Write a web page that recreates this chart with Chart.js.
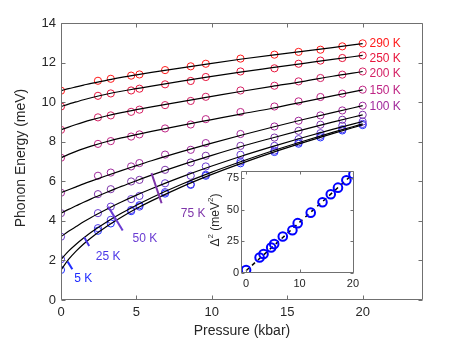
<!DOCTYPE html>
<html><head><meta charset="utf-8">
<script src="https://cdn.jsdelivr.net/npm/chart.js@4.4.1/dist/chart.umd.min.js"></script>
<style>
html,body{margin:0;padding:0;background:#fff;}
#wrap{position:relative;width:471px;height:353px;overflow:hidden;}
#main{position:absolute;left:0;top:0;width:471px;height:353px;}
#inset{position:absolute;left:200px;top:160px;width:165px;height:140px;}
</style></head><body>
<div id="wrap"><canvas id="main" width="471" height="353"></canvas><canvas id="inset" width="165" height="140"></canvas></div>
<script>
// ---------- data ----------
const pressure = [0, 2.45, 3.3, 4.65, 5.2, 6.9, 8.6, 9.6, 11.9, 14.15, 15.75, 17.2, 18.65, 20.0];
const temperatures = ['290 K','250 K','200 K','150 K','100 K','75 K','50 K','25 K','5 K'];
const e290 = [10.58,11.08,11.18,11.34,11.40,11.62,11.81,11.94,12.20,12.40,12.54,12.65,12.82,12.97];
const e250 = [9.78,10.32,10.44,10.59,10.68,10.90,11.07,11.27,11.55,11.71,11.94,12.10,12.23,12.36];
const e200 = [8.60,9.23,9.33,9.51,9.62,9.85,10.06,10.27,10.59,10.83,11.05,11.22,11.39,11.55];
const e150 = [7.19,7.89,8.03,8.26,8.37,8.67,8.87,9.14,9.50,9.78,10.04,10.26,10.43,10.63];
const e100 = [5.42,6.28,6.44,6.75,6.92,7.35,7.59,7.93,8.39,8.77,9.06,9.33,9.58,9.82];
const e75  = [4.39,5.35,5.60,5.99,6.07,6.58,6.95,7.29,7.79,8.21,8.55,8.86,9.11,9.36];
const e50  = [3.20,4.39,4.72,5.10,5.26,5.90,6.28,6.75,7.34,7.79,8.13,8.43,8.81,9.02];
const e25  = [2.06,3.63,4.05,4.55,4.72,5.45,5.85,6.33,7.00,7.55,7.97,8.30,8.63,8.90];
const e5   = [1.52,3.50,3.87,4.49,4.79,5.38,5.82,6.28,6.91,7.48,7.90,8.22,8.57,8.84];

// fitted curves on a pressure grid
const fitP   = [0,0.5,1,1.5,2,3,4,5,6,8,10,12,14,16,18,20];
const fit290 = [10.58,10.68,10.77,10.86,10.95,11.10,11.25,11.38,11.50,11.73,11.96,12.18,12.38,12.57,12.76,12.96];
const fit250 = [9.78,9.90,10.01,10.12,10.22,10.40,10.55,10.68,10.81,11.06,11.30,11.53,11.74,11.95,12.16,12.36];
const fit200 = [8.60,8.74,8.87,8.99,9.10,9.30,9.47,9.62,9.76,10.03,10.29,10.55,10.80,11.04,11.31,11.55];
const fit150 = [7.19,7.36,7.51,7.65,7.78,8.00,8.19,8.36,8.52,8.83,9.12,9.41,9.69,10.00,10.32,10.62];
const fit100 = [5.42,5.57,5.72,5.87,6.01,6.28,6.54,6.79,7.04,7.50,7.93,8.34,8.73,9.11,9.47,9.82];
const fit75  = [4.39,4.58,4.76,4.94,5.11,5.43,5.74,6.03,6.31,6.83,7.31,7.77,8.19,8.60,8.99,9.36];
const fit50  = [3.20,3.47,3.71,3.95,4.17,4.57,4.95,5.30,5.62,6.22,6.77,7.28,7.75,8.20,8.62,9.02];
const fit25  = [2.05,2.47,2.82,3.13,3.42,3.93,4.38,4.79,5.17,5.85,6.46,7.01,7.53,8.01,8.47,8.90];
const fit5   = [1.52,2.05,2.47,2.83,3.15,3.70,4.18,4.62,5.01,5.72,6.35,6.92,7.45,7.94,8.41,8.85];

// short marker strokes on the low-temperature curves (pressure, energy)
const markP5  = [0.44, 0.75], markE5  = [1.94, 1.55];
const markP25 = [1.54, 1.87], markE25 = [3.17, 2.73];
const markP50 = [3.13, 4.09], markE50 = [4.72, 3.51];
const markP75 = [6.00, 6.67], markE75 = [6.41, 4.89];

// inset: gap squared vs pressure (5 K)
const insetP  = [0, 2.53, 3.27, 4.7, 5.26, 6.87, 8.67, 9.66, 12.1, 14.3, 15.85, 17.2, 18.77, 20.1];
const deltaSq = [2.4, 12.3, 15.0, 20.2, 22.9, 28.9, 33.9, 39.5, 47.8, 56.0, 62.4, 67.6, 73.4, 78.2];
const insetFitP = [0, 20];
const insetFitD = [1.8, 78.4];

const xTicks = [0,5,10,15,20];
const yTicks = [0,2,4,6,8,10,12,14];
const insetXTicks = [0,10,20];
const insetYTicks = [0,25,50,75];

// ---------- styling ----------
const colors = ['#ff1a1a','#e8153c','#d42265','#bf2585','#a02a9c','#7e35aa','#6a3cd2','#4a36e8','#1f2cff'];
const FONT = "'Liberation Sans', Arial, sans-serif";
const AX = '#707070', TXT = '#262626';

const series = [e290,e250,e200,e150,e100,e75,e50,e25,e5];
const fits = [fit290,fit250,fit200,fit150,fit100,fit75,fit50,fit25,fit5];
const marks = [[markP75,markE75,5],[markP50,markE50,6],[markP25,markE25,7],[markP5,markE5,8]];

const zip = (xs, ys) => xs.map((v,i)=>({x:v, y:ys[i]}));

const datasets = [];
series.forEach((s,i)=>{
  datasets.push({type:'scatter', label:temperatures[i], data:zip(pressure,s),
    pointStyle:'circle', pointRadius:3.6, pointBorderWidth:1, borderColor:colors[i],
    backgroundColor:'rgba(0,0,0,0)', pointBackgroundColor:'rgba(0,0,0,0)', order:2});
});
fits.forEach((f,i)=>{
  datasets.push({type:'line', label:'fit '+temperatures[i], data:zip(fitP,f), borderColor:'#000',
    borderWidth:1.2, pointRadius:0, cubicInterpolationMode:'monotone', fill:false, order:1});
});
marks.forEach(m=>{
  datasets.push({type:'line', label:'mark', data:zip(m[0],m[1]), borderColor:colors[m[2]],
    borderWidth:2, pointRadius:0, fill:false, order:0});
});

// label anchors (pressure, energy) for text
const rightLabels = [[20.45,12.96],[20.45,12.22],[20.45,11.43],[20.45,10.60],[20.45,9.75]];
const lowLabels = [[8.76,4.35,5],[5.56,3.12,6],[3.13,2.19,7],[1.48,1.10,8]];

const boxPlugin = {
  id:'boxPlugin',
  afterDraw(chart, args, o){
    const {ctx, chartArea:a} = chart;
    const x = chart.scales.x, y = chart.scales.y;
    ctx.save();
    ctx.strokeStyle = AX; ctx.lineWidth = 1;
    const L = Math.round(a.left)+0.5, R = Math.round(a.right)-0.5, T = Math.round(a.top)+0.5, B = Math.round(a.bottom)-0.5;
    ctx.beginPath();
    ctx.rect(L, T, R-L, B-T);
    o.xt.forEach(v=>{ const p = Math.round(x.getPixelForValue(v))+0.5; ctx.moveTo(p,B); ctx.lineTo(p,B-o.len); ctx.moveTo(p,T); ctx.lineTo(p,T+o.len);});
    o.yt.forEach(v=>{ const p = Math.round(y.getPixelForValue(v))+0.5; ctx.moveTo(L,p); ctx.lineTo(L+o.len,p); ctx.moveTo(R,p); ctx.lineTo(R-o.len,p);});
    ctx.stroke();
    if (o.texts) o.texts(ctx, x, y, a);
    ctx.restore();
  }
};

new Chart(document.getElementById('main'), {
  data:{datasets},
  options:{
    responsive:false, animation:false, devicePixelRatio:1,
    layout:{padding:{left:0,top:23,right:48,bottom:0}},
    plugins:{legend:{display:false}, tooltip:{enabled:false},
      boxPlugin:{len:4, xt:xTicks, yt:yTicks, texts:(ctx,x,y,a)=>{
        ctx.font = '12px '+FONT; ctx.textBaseline='middle'; ctx.textAlign='left';
        rightLabels.forEach((p,i)=>{ ctx.fillStyle = colors[i]; ctx.fillText(temperatures[i], x.getPixelForValue(p[0]), y.getPixelForValue(p[1])); });
        ctx.textAlign='center';
        lowLabels.forEach(p=>{ ctx.fillStyle = colors[p[2]]; ctx.fillText(temperatures[p[2]], x.getPixelForValue(p[0]), y.getPixelForValue(p[1])); });
        ctx.fillStyle = TXT; ctx.font = '14px '+FONT;
        ctx.fillText('Pressure (kbar)', (a.left+a.right)/2, 331);
        ctx.save(); ctx.translate(21, 158); ctx.rotate(-Math.PI/2);
        ctx.fillText('Phonon Energy (meV)', 0, 0); ctx.restore();
      }}},
    scales:{
      x:{type:'linear', min:0, max:24,
        afterBuildTicks:s=>{s.ticks = xTicks.map(v=>({value:v}));},
        afterFit:s=>{s.height = 53;},
        grid:{display:false, drawTicks:false}, border:{display:false},
        ticks:{font:{family:FONT,size:13}, color:TXT, padding:5, maxRotation:0}},
      y:{type:'linear', min:0, max:14,
        afterBuildTicks:s=>{s.ticks = yTicks.map(v=>({value:v}));},
        afterFit:s=>{s.width = 61;},
        grid:{display:false, drawTicks:false}, border:{display:false},
        ticks:{font:{family:FONT,size:13}, color:TXT, padding:5}}
    }
  },
  plugins:[boxPlugin]
});

// ---------- inset ----------
const insetBg = {
  id:'insetBg',
  beforeDraw(chart){
    const {ctx, chartArea:a} = chart;
    ctx.save(); ctx.fillStyle = '#fff'; ctx.fillRect(a.left, a.top, a.right-a.left, a.bottom-a.top); ctx.restore();
  }
};
new Chart(document.getElementById('inset'), {
  data:{datasets:[
    {type:'line', label:'linear fit', data:zip(insetFitP, insetFitD), borderColor:'#000', borderWidth:1.5,
     borderDash:[4,4], pointRadius:0, fill:false, order:2},
    {type:'scatter', label:'Δ²', data:zip(insetP, deltaSq), pointStyle:'circle', pointRadius:4.3,
     pointBorderWidth:2, borderColor:'#0000ff', backgroundColor:'rgba(0,0,0,0)',
     pointBackgroundColor:'rgba(0,0,0,0)', order:1}
  ]},
  options:{
    responsive:false, animation:false, devicePixelRatio:1,
    layout:{padding:{left:0,top:11,right:11,bottom:0}},
    plugins:{legend:{display:false}, tooltip:{enabled:false},
      boxPlugin:{len:3, xt:insetXTicks, yt:insetYTicks, texts:(ctx)=>{
        ctx.fillStyle = TXT; ctx.textBaseline='middle';
        ctx.save(); ctx.translate(15.5, 60); ctx.rotate(-Math.PI/2);
        const big = '12px '+FONT, small = '8px '+FONT;
        const parts = [['Δ',big,0],['2',small,-5],[' (meV',big,0],['2',small,-5],[')',big,0]];
        let w = 0; parts.forEach(p=>{ctx.font=p[1]; w += ctx.measureText(p[0]).width;});
        let cx = -w/2; ctx.textAlign='left';
        parts.forEach(p=>{ctx.font=p[1]; ctx.fillText(p[0], cx, p[2]); cx += ctx.measureText(p[0]).width;});
        ctx.restore();
      }}},
    scales:{
      x:{type:'linear', min:-0.95, max:20.2,
        afterBuildTicks:s=>{s.ticks = insetXTicks.map(v=>({value:v}));},
        afterFit:s=>{s.height = 27;},
        grid:{display:false, drawTicks:false}, border:{display:false},
        ticks:{font:{family:FONT,size:11}, color:TXT, padding:4, maxRotation:0}},
      y:{type:'linear', min:0, max:80.8,
        afterBuildTicks:s=>{s.ticks = insetYTicks.map(v=>({value:v}));},
        afterFit:s=>{s.width = 41;},
        grid:{display:false, drawTicks:false}, border:{display:false},
        ticks:{font:{family:FONT,size:11}, color:TXT, padding:2}}
    }
  },
  plugins:[insetBg, boxPlugin]
});
</script>
</body></html>
